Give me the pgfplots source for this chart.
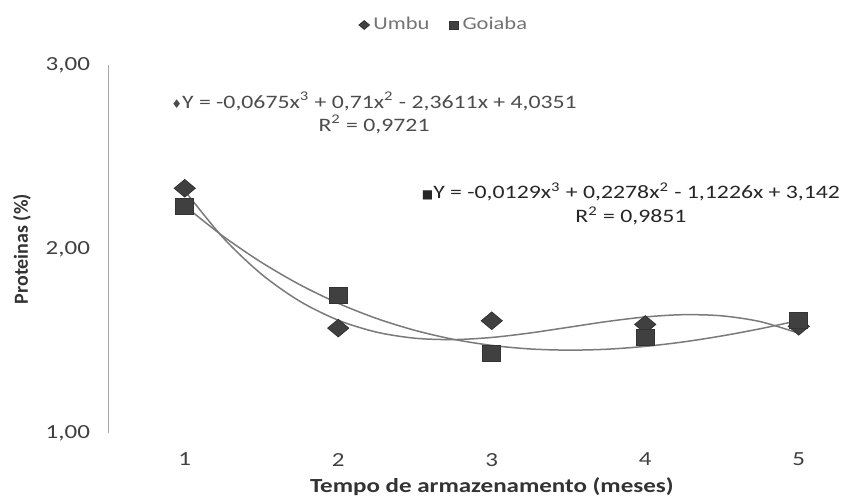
\documentclass[border=0pt]{standalone}
\usepackage{fontspec}
\setmainfont[FakeStretch=1.25]{Carlito}
\newfontfamily\plainfont{Carlito}
\newfontfamily\symfont{DejaVu Sans}
\usepackage{pgfplots}
\pgfplotsset{compat=1.18}
\definecolor{mk}{HTML}{404040}
\definecolor{tl}{HTML}{7A7A7A}
\begin{document}
\begin{tikzpicture}
\path[use as bounding box] (-54pt,-33pt) rectangle (371pt,216.5pt);
\begin{axis}[
  at={(0,0)}, anchor=south west,
  scale only axis, width=371pt, height=184pt,
  xmin=0.5, xmax=5.3339, ymin=1, ymax=3,
  axis x line*=bottom, axis y line*=left,
  axis line style={-},
  x axis line style={draw=none},
  y axis line style={draw=black!35, line width=0.5pt},
  major tick length=0pt,
  xtick={1,2,3,4,5}, ytick={1,2,3},
  /pgf/number format/assume math mode=true,
  ticklabel style={font=\fontsize{10}{12}\selectfont, text=black!75},
  yticklabel style={/pgf/number format/.cd, fixed, fixed zerofill, precision=2, use comma, /tikz/.cd, xshift=-5.5pt},
  xticklabel style={yshift=-6.5pt},
  xlabel={Tempo de armazenamento (meses)},
  xlabel style={at={(axis description cs:0.5173,-0.1467)}, anchor=center, font=\fontsize{10}{12}\selectfont\bfseries, text=black!80},
  ylabel={Proteinas (\%)},
  ylabel style={at={(axis description cs:-0.1159,0.5)}, anchor=center, font=\plainfont\bfseries\fontsize{10}{12}\selectfont, text=black!80},
  legend style={at={(axis description cs:0.4542,1.1087)}, anchor=center, draw=none, fill=none,
    legend columns=2, font=\fontsize{9}{11}\selectfont, text=black!55,
    /tikz/every even column/.append style={column sep=8pt}},
  legend image post style={scale=0.5},
]
% trend lines (cubic fits shown in chart)
\addplot[tl, line width=0.75pt, smooth, forget plot] coordinates {
(1,2.3165)(1.25,2.0613)(1.5,1.8631)(1.75,1.7158)(2,1.6129)(2.25,1.5481)(2.5,1.5151)(2.75,1.5077)
(3,1.5193)(3.25,1.5437)(3.5,1.5746)(3.75,1.6058)(4,1.6307)(4.25,1.6431)(4.5,1.6367)(4.75,1.6052)(5,1.5421)};
\addplot[tl, line width=0.75pt, smooth, forget plot] coordinates {
(1,2.2343)(1.25,2.0694)(1.5,1.9272)(1.75,1.8059)(2,1.7048)(2.25,1.6224)(2.5,1.5577)(2.75,1.5092)
(3,1.4761)(3.25,1.4568)(3.5,1.4504)(3.75,1.4553)(4,1.4708)(4.25,1.4952)(4.5,1.5278)(4.75,1.5668)(5,1.6115)};
% data
\addplot[only marks, mark=diamond*, mark size=4.4pt, mark options={xscale=1.6, fill=mk, draw=mk!80!black}] coordinates {
(1,2.33)(2,1.57)(3,1.61)(4,1.59)(5,1.58)};
\addlegendentry{Umbu}
\addplot[only marks, mark=square*, mark size=4pt, mark options={xscale=1.12, fill=mk, draw=mk!80!black}] coordinates {
(1,2.23)(2,1.75)(3,1.43)(4,1.52)(5,1.61)};
\addlegendentry{Goiaba}
\node[align=center, font=\fontsize{9.5}{11.5}\selectfont, text=black!70, inner sep=0pt] at (axis cs:2.233,2.739)
 {{\symfont\fontsize{6}{7}\selectfont ♦}Y = -0,0675x\textsuperscript{3} + 0,71x\textsuperscript{2} - 2,3611x + 4,0351\\R\textsuperscript{2} = 0,9721};
\node[align=center, font=\fontsize{9.5}{12}\selectfont, text=black!85, inner sep=0pt] at (axis cs:3.907,2.245)
 {{\symfont\fontsize{6}{7}\selectfont ■}Y = -0,0129x\textsuperscript{3} + 0,2278x\textsuperscript{2} - 1,1226x + 3,142\\R\textsuperscript{2} = 0,9851};
\end{axis}
\end{tikzpicture}
\end{document}
